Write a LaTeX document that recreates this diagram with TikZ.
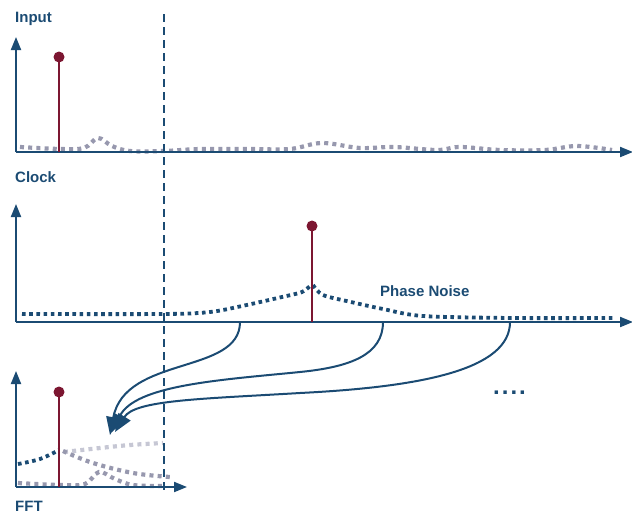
\documentclass[tikz,border=0pt]{standalone}
\usepackage{fontspec}
\setmainfont{Liberation Sans}
\usetikzlibrary{arrows.meta}
\definecolor{navy}{HTML}{1B4B73}
\definecolor{stemred}{HTML}{7C1631}
\definecolor{dotgray}{HTML}{9798AE}
\definecolor{lightdot}{HTML}{C6C7D4}
\tikzset{
  axis/.style={draw=navy, line width=2pt, -{Triangle[length=13pt,width=10pt]}},
  stemline/.style={draw=stemred, line width=1.8pt},
  stemdot/.style={circle, fill=stemred, inner sep=0pt, minimum size=11pt},
  graydots/.style={draw=dotgray, line width=4.2pt, dash pattern=on 4pt off 4.2pt},
  lightdots/.style={draw=lightdot, line width=4.2pt, dash pattern=on 4pt off 4.2pt},
  navydots/.style={draw=navy, line width=3.8pt, dash pattern=on 3.6pt off 3.6pt},
  vdash/.style={draw=navy, line width=1.8pt, dash pattern=on 8pt off 5pt},
  flow/.style={draw=navy, line width=2pt, -{Triangle[length=18pt,width=14pt]}},
  lbl/.style={text=navy, font=\bfseries\fontsize{15}{15}\selectfont, inner sep=0pt, anchor=base west}
}
\begin{document}
\begin{tikzpicture}[x=1pt,y=-1pt]
\useasboundingbox (0,0) rectangle (632,514);
% labels
\node[lbl] (tin) at (15,23) {Input};
\node[lbl] (tclk) at (15,182) {Clock};
\node[lbl] (tfft) at (15,511) {FFT};
\node[lbl] (tpn) at (380,296) {Phase Noise};
\node[text=navy, font=\bfseries\fontsize{24}{24}\selectfont, inner sep=0pt, anchor=base west] (ell) at (493,394) {.\kern2pt.\kern2pt.\kern2pt.};
% coordinates
\coordinate (o1) at (16,152); \coordinate (y1) at (16,37); \coordinate (x1) at (633,152);
\coordinate (o2) at (16,322); \coordinate (y2) at (16,204); \coordinate (x2) at (633,322);
\coordinate (o3) at (16,487); \coordinate (y3) at (16,371); \coordinate (x3) at (187,487);
\coordinate (dtop) at (164,14); \coordinate (dbot) at (164,490);
% noise curves
\draw[graydots] plot[smooth, tension=0.6] coordinates {(20,147) (60,149) (84,148) (98,138) (112,146) (130,151) (164,151) (200,149) (250,149) (290,149) (322,143) (360,148) (394,147) (437,150) (460,147) (500,150) (545,150) (577,146) (612,150)};
\draw[navydots] plot[smooth, tension=0.5] coordinates {(22,314) (165,314) (210,312) (242,306) (282,297) (302,292) (311,285)};
\draw[navydots] plot[smooth, tension=0.5] coordinates {(313,285) (323,295) (351,302) (383,309) (423,316) (512,318) (613,318)};
% FFT curves
\draw[lightdots] plot[smooth, tension=0.6] coordinates {(64,452) (100,448) (130,445) (163,443)};
\draw[graydots] plot[smooth, tension=0.6] coordinates {(63,451) (93,463) (133,473) (170,477)};
\draw[graydots] plot[smooth, tension=0.6] coordinates {(18,483) (60,485) (85,484) (99,472) (115,479) (133,485) (164,486)};
\draw[navydots] plot[smooth, tension=0.6] coordinates {(18,464) (40,459) (59,450)};
% dashed vertical
\draw[vdash] (dtop) -- (dbot);
% axes
\draw[axis] (o1) -- (y1); \draw[axis] (o1) -- (x1);
\draw[axis] (o2) -- (y2); \draw[axis] (o2) -- (x2);
\draw[axis] (o3) -- (y3); \draw[axis] (o3) -- (x3);
% stems
\node[stemdot] (d1) at (59,57) {};
\node[stemdot] (d2) at (312,226) {};
\node[stemdot] (d3) at (59,392) {};
\coordinate (b1) at (59,152); \coordinate (b2) at (312,322); \coordinate (b3) at (59,487);
\draw[stemline] (b1) -- (d1.center);
\draw[stemline] (b2) -- (d2.center);
\draw[stemline] (b3) -- (d3.center);
% flow arrows
\coordinate (s1) at (240,322); \coordinate (s2) at (383,322); \coordinate (s3) at (510,322);
\coordinate (e1) at (110,435); \coordinate (e2) at (112,432); \coordinate (e3) at (115,432);
\draw[flow] (s1) .. controls (240,375) and (125,355) .. (e1);
\draw[flow] (s2) .. controls (383,355) and (350,367) .. (300,372) .. controls (220,380) and (135,385) .. (e2);
\draw[flow] (s3) .. controls (510,370) and (420,387) .. (300,393) .. controls (200,399) and (135,400) .. (e3);
\end{tikzpicture}
\end{document}
